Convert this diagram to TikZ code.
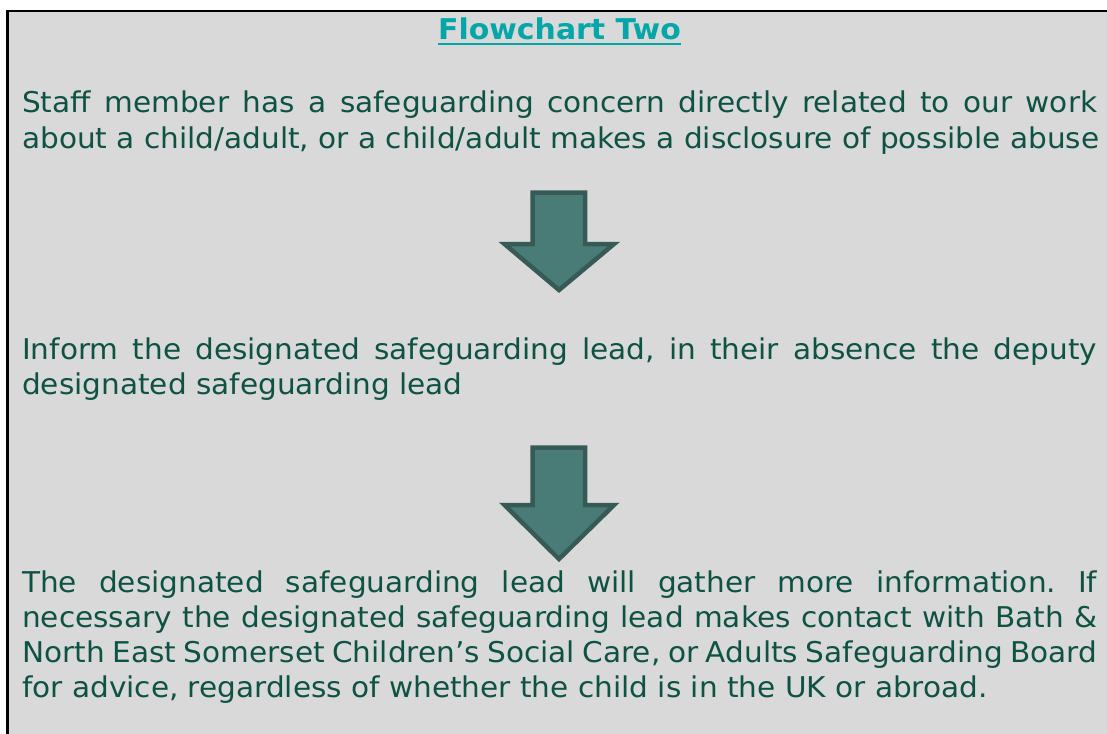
\documentclass[tikz,border=0pt]{standalone}
\usepackage{fontspec}
\setmainfont[FakeStretch=1.033]{DejaVu Sans}
\newfontfamily\titlefont[FakeStretch=1.045]{DejaVu Sans}
\frenchspacing
\definecolor{boxgray}{HTML}{D9D9D9}
\definecolor{txtgreen}{HTML}{0E5243}
\definecolor{titleteal}{HTML}{00A6A8}
\definecolor{arrowfill}{HTML}{4A7C77}
\definecolor{arrowline}{HTML}{375A57}
\tikzset{
  bodyline/.style={anchor=base west, inner sep=0pt, text=txtgreen, font=\fontsize{28.6}{35}\selectfont},
  titletext/.style={anchor=base, inner sep=0pt, text=titleteal, font=\titlefont\fontsize{28.6}{35}\selectfont\bfseries},
  bigarrow/.style={fill=arrowfill, draw=arrowline, line width=4.5pt, line join=miter},
}
\newcommand{\jl}[1]{\makebox[1075pt][s]{#1}}
\begin{document}
\begin{tikzpicture}[x=1pt,y=-1pt]
\useasboundingbox (0,0) rectangle (1107,733);
\fill[white] (0,0) rectangle (1107,733);
\fill[boxgray] (7.5,11) rectangle (1110,736);
\draw[black, line width=2.5pt] (7.5,736) -- (7.5,11) -- (1110,11);
% title
\node[titletext] (title) at (559.5,40) {Flowchart Two};
\draw[titleteal, line width=2.5pt] (title.base west) ++(0,3.8) coordinate (ul1) -- (title.base east |- ul1);
% paragraph 1
\node[bodyline] (p1a) at (22,113) {\jl{Staff member has a safeguarding concern directly related to our work}};
\node[bodyline] (p1b) at (22,148) {about a child/adult, or a child/adult makes a disclosure of possible abuse};
% arrow 1
\draw[bigarrow] (532.5,192.5) -- (585,192.5) -- (585,244) -- (614,244) -- (559,290) -- (504.5,244) -- (532.5,244) -- cycle;
% paragraph 2
\node[bodyline] (p2a) at (22,359) {\jl{Inform the designated safeguarding lead, in their absence the deputy}};
\node[bodyline] (p2b) at (22,394) {designated safeguarding lead};
% arrow 2
\draw[bigarrow] (532.5,447.5) -- (585,447.5) -- (585,505) -- (614,505) -- (559,559) -- (504.5,505) -- (532.5,505) -- cycle;
% paragraph 3
\node[bodyline] (p3a) at (22,592) {\jl{The designated safeguarding lead will gather more information. If}};
\node[bodyline] (p3b) at (22,627) {\jl{necessary the designated safeguarding lead makes contact with Bath \&}};
\node[bodyline] (p3c) at (22,662) {\jl{North East Somerset Children’s Social Care, or Adults Safeguarding Board}};
\node[bodyline] (p3d) at (22,697) {for advice, regardless of whether the child is in the UK or abroad.};
\end{tikzpicture}
\end{document}
